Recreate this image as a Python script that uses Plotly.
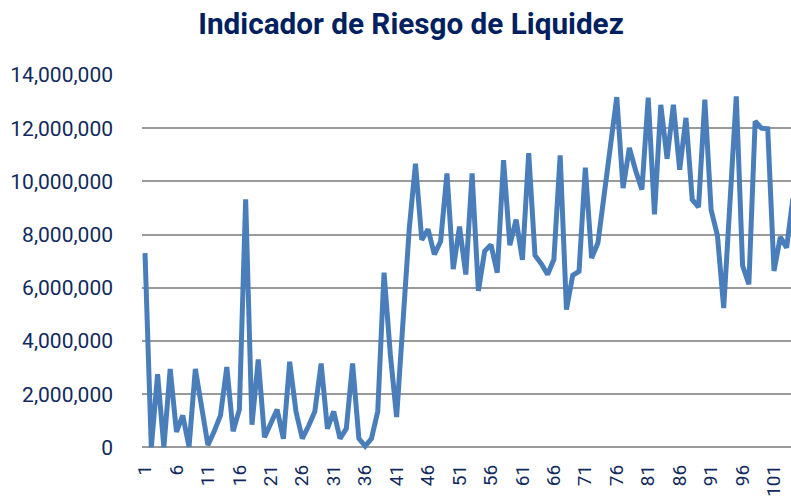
import plotly.graph_objects as go

periods = list(range(1, 105))
values_millions = [
    7.3, 0.0, 2.75, 0.0, 2.95, 0.58, 1.2, 0.02, 2.95, 1.5,
    0.08, 0.6, 1.2, 3.02, 0.6, 1.42, 9.33, 0.85, 3.3, 0.38,
    0.9, 1.42, 0.32, 3.22, 1.35, 0.33, 0.8, 1.35, 3.15, 0.7,
    1.35, 0.33, 0.7, 3.15, 0.33, 0.05, 0.33, 1.35, 6.57, 3.5,
    1.14, 4.8, 8.2, 10.66, 7.8, 8.2, 7.25, 7.75, 10.3, 6.7,
    8.3, 6.5, 10.3, 5.88, 7.38, 7.62, 6.57, 10.8, 7.6, 8.56,
    7.05, 11.06, 7.22, 6.9, 6.5, 7.06, 10.98, 5.18, 6.47, 6.62,
    10.52, 7.12, 7.68, 9.5, 11.2, 13.17, 9.75, 11.26, 10.41, 9.69,
    13.15, 8.76, 12.88, 10.85, 12.88, 10.44, 12.39, 9.31, 9.03, 13.07,
    8.93, 7.97, 5.24, 9.2, 13.2, 6.84, 6.13, 12.26, 12.0, 11.98,
    6.63, 7.91, 7.51, 9.35,
]
values = [v * 1_000_000 for v in values_millions]
x_tick_values = list(range(1, 105, 5))
y_tick_values = list(range(0, 14_000_001, 2_000_000))

title_text = "Indicador de Riesgo de Liquidez"
navy = "#0F2A5C"

fig = go.Figure()
fig.add_trace(go.Scatter(
    x=periods, y=values, mode="lines",
    line=dict(color="#4A7EBB", width=5),
    hoverinfo="x+y", showlegend=False,
))

fig.update_layout(
    width=791, height=499,
    margin=dict(l=142, r=0, t=75, b=49, autoexpand=False),
    paper_bgcolor="white", plot_bgcolor="white",
    title=dict(
        text="<b>" + title_text + "</b>",
        x=411 / 791, xanchor="center", xref="container",
        y=1 - 24 / 499, yanchor="middle", yref="container",
        font=dict(family="Roboto", size=29.7, color="#002060"),
    ),
    xaxis=dict(
        range=[0.52, 103.7],
        tickmode="array", tickvals=x_tick_values,
        ticktext=[str(v) for v in x_tick_values],
        tickangle=-90,
        tickfont=dict(family="Roboto", size=19, color=navy),
        showgrid=False, zeroline=False, showline=False,
        ticks="", ticklabelstandoff=10, automargin=False,
    ),
    yaxis=dict(
        range=[-100000, 14000000],
        tickmode="array", tickvals=y_tick_values,
        tickformat=",d",
        tickfont=dict(family="Roboto", size=21, color=navy),
        showgrid=True, gridcolor="#9A9A9A", gridwidth=1.8,
        zeroline=False, showline=False, ticks="",
        ticklabelstandoff=28, automargin=False,
    ),
)

fig.write_html(
    "out.html",
    config={"displayModeBar": False},
    post_script="document.body.style.margin='0';document.body.style.overflow='hidden';",
)
